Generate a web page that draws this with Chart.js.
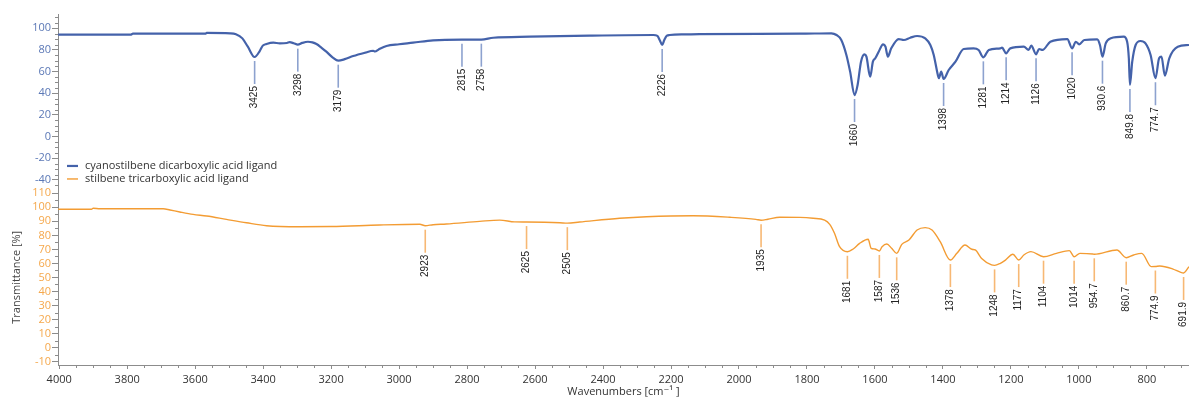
<!DOCTYPE html>
<html>
<head>
<meta charset="utf-8">
<script src="https://cdn.jsdelivr.net/npm/chart.js@4.4.1/dist/chart.umd.min.js"></script>
<style>
  html, body { margin: 0; padding: 0; background: #fff; }
  #wrap { width: 1189px; height: 398px; }
</style>
</head>
<body>
<div id="wrap"><canvas id="irChart" width="1189" height="398"></canvas></div>
<script>
// Axis ticks
const xTicks = [4000, 3800, 3600, 3400, 3200, 3000, 2800, 2600, 2400, 2200, 2000, 1800, 1600, 1400, 1200, 1000, 800];
const topTicks = [100, 80, 60, 40, 20, 0, -20, -40];
const botTicks = [110, 100, 90, 80, 70, 60, 50, 40, 30, 20, 10, 0, -10];

const seriesNames = ['cyanostilbene dicarboxylic acid ligand', 'stilbene tricarboxylic acid ligand'];

// [wavenumber cm-1, transmittance %]
const cyanoSpectrum = [
  [4003, 94.1], [3790, 94.1], [3783, 95.0], [3570, 95.0], [3566, 95.7], [3497, 95.4], [3480, 94.6],
  [3461, 90.7], [3445, 83], [3425, 73.5], [3410, 79], [3401, 84], [3390, 85.5], [3370, 86.7],
  [3351, 86.1], [3330, 86.4], [3322, 87.2], [3310, 86.2], [3298, 84.9], [3285, 86.5], [3268, 87.6],
  [3255, 87], [3243, 85.5], [3228, 82], [3214, 78.4], [3195, 73], [3179, 70.1], [3160, 71.5],
  [3135, 74.4], [3100, 77.5], [3076, 79.3], [3071, 78.6], [3060, 80.5], [3037, 83.7], [3000, 85.3],
  [2959, 86.7], [2900, 88.9], [2815, 89.5], [2758, 89.5], [2723, 91.3], [2616, 92.3], [2439, 93.2],
  [2252, 93.8], [2240, 93.0], [2233, 89], [2226, 84.6], [2220, 89], [2212, 93.2], [2204, 93.8],
  [2155, 94.4], [2116, 94.7], [1821, 95.0], [1728, 95.4], [1713, 93.8], [1699, 89.2], [1684, 75.4],
  [1673, 60], [1660, 38.4], [1651, 47.7], [1641, 69.2], [1631, 76], [1625, 73.8], [1614, 55.3],
  [1606, 69.2], [1599, 72.3], [1589, 78.4], [1576, 85.2], [1569, 83], [1562, 73.8], [1552, 81.5],
  [1530, 90.1], [1515, 89.2], [1496, 91.3], [1476, 92.9], [1452, 90.8], [1437, 84.6], [1427, 75.4],
  [1417, 60], [1412, 53.9], [1405, 60], [1398, 53.2], [1383, 61.5], [1363, 69.2], [1339, 80.9],
  [1310, 81.5], [1295, 80], [1281, 73.2], [1265, 80], [1231, 81.5], [1226, 82.1], [1214, 76.9],
  [1202, 81.5], [1162, 83], [1148, 80], [1140, 84], [1126, 76], [1117, 80.9], [1107, 80],
  [1084, 87.6], [1034, 90.1], [1020, 81.5], [1009, 87.6], [999, 85.2], [984, 89.2], [946, 89.8],
  [938, 84.6], [930.6, 73.8], [921, 86.1], [906, 90.8], [868, 92.3], [858, 87.6], [853, 72.3],
  [849.8, 47.7], [843, 69.2], [833, 84.6], [819, 88.3], [804, 86.1], [789, 75.4], [774.7, 53.9],
  [764, 72.3], [757, 73.8], [747, 56.3], [734, 72.3], [709, 83], [676, 84.6]
];
const stilbSpectrum = [
  [4003, 98.6], [3905, 98.6], [3900, 99.3], [3880, 99.0], [3694, 99.0], [3674, 98.1], [3645, 96.7],
  [3606, 95.0], [3566, 93.8], [3508, 91.4], [3449, 89.0], [3390, 86.9], [3292, 86.2], [3200, 86.3],
  [3057, 87.4], [2939, 87.9], [2923, 86.9], [2900, 87.6], [2861, 88.1], [2763, 90.0], [2704, 90.9],
  [2660, 89.6], [2625, 89.5], [2527, 89.0], [2505, 88.7], [2469, 89.5], [2351, 92.2], [2272, 93.3],
  [2135, 94.0], [2027, 92.9], [1950, 91.4], [1935, 90.8], [1915, 91.5], [1880, 92.9], [1821, 92.8],
  [1782, 92.2], [1748, 90.9], [1733, 87.9], [1719, 81.5], [1704, 71.9], [1681, 68.3], [1664, 70.3],
  [1645, 74.3], [1620, 77.2], [1611, 70.8], [1600, 70.3], [1587, 68.9], [1579, 71.9], [1565, 73.8],
  [1551, 70.8], [1536, 67.2], [1521, 73.6], [1500, 76.7], [1476, 83.8], [1452, 85.5], [1432, 83.8],
  [1408, 75.5], [1378, 62.4], [1359, 67.2], [1335, 73.1], [1315, 70.1], [1305, 69.6], [1286, 63.6],
  [1257, 58.9], [1248, 58.6], [1231, 60.1], [1216, 62.4], [1194, 66.5], [1177, 62.4], [1162, 66],
  [1141, 68.4], [1104, 64.8], [1066, 67.2], [1028, 69.1], [1014, 64.8], [997, 67.2], [959, 66.7],
  [954.7, 66.5], [888, 69.6], [860.7, 64.1], [839, 66], [815, 67.2], [787, 57.7], [774.9, 57.8],
  [762, 58.2], [723, 56], [700, 53.6], [691.9, 53.2], [676, 57.7]
];

// labelled peaks
const cyanoPeaks = [3425, 3298, 3179, 2815, 2758, 2226, 1660, 1398, 1281, 1214, 1126, 1020, 930.6, 849.8, 774.7];
const stilbPeaks = [2923, 2625, 2505, 1935, 1681, 1587, 1536, 1378, 1248, 1177, 1104, 1014, 954.7, 860.7, 774.9, 691.9];

const blue = '#4462aa', blueTick = '#5b78b6', bluePeak = '#8da2cf';
const orange = '#f39c33', orangeTick = '#f5a84c', orangePeak = '#f7b874';
const axisColor = '#8c8c8c';
const fontFam = '"Open Sans", "DejaVu Sans", sans-serif';

// linear lookup of the curve at a wavenumber (arrays run high -> low)
function valueAt(spec, wn) {
  for (let i = 0; i < spec.length - 1; i++) {
    const [w0, t0] = spec[i], [w1, t1] = spec[i + 1];
    if (wn <= w0 && wn >= w1) return t0 + (t1 - t0) * (w0 - wn) / (w0 - w1);
  }
  return spec[spec.length - 1][1];
}

const irExtras = {
  id: 'irExtras',
  afterDatasetsDraw(chart) {
    const { ctx, chartArea: ca, scales: { x, yTop, yBot } } = chart;
    ctx.save();

    // minor ticks
    ctx.strokeStyle = axisColor;
    ctx.lineWidth = 1;
    ctx.beginPath();
    for (let w = 700; w <= 4000; w += 50) {
      if (w % 200 === 0) continue;
      const px = Math.round(x.getPixelForValue(w)) + 0.5;
      ctx.moveTo(px, ca.bottom); ctx.lineTo(px, ca.bottom + 3);
    }
    for (let v = -45; v <= 110; v += 5) {
      if (v % 20 === 0) continue;
      const py = Math.round(yTop.getPixelForValue(v)) + 0.5;
      ctx.moveTo(ca.left - 3, py); ctx.lineTo(ca.left, py);
    }
    for (let v = -10; v <= 110; v += 5) {
      if (v % 10 === 0) continue;
      const py = Math.round(yBot.getPixelForValue(v)) + 0.5;
      ctx.moveTo(ca.left - 3, py); ctx.lineTo(ca.left, py);
    }
    ctx.stroke();

    // peak markers
    const groups = [
      [cyanoPeaks, cyanoSpectrum, yTop, bluePeak],
      [stilbPeaks, stilbSpectrum, yBot, orangePeak]
    ];
    ctx.font = '10px "Liberation Sans", Arial, sans-serif';
    ctx.textAlign = 'right';
    ctx.textBaseline = 'middle';
    groups.forEach(([peaks, spec, ys, col]) => {
      peaks.forEach(p => {
        const px = x.getPixelForValue(p);
        const py = ys.getPixelForValue(valueAt(spec, p));
        ctx.strokeStyle = col;
        ctx.lineWidth = 1.6;
        ctx.beginPath();
        ctx.moveTo(px, py + 4); ctx.lineTo(px, py + 27);
        ctx.stroke();
        ctx.save();
        ctx.translate(px, py + 29);
        ctx.rotate(-Math.PI / 2);
        ctx.fillStyle = '#222';
        ctx.fillText(String(p), 0, 0);
        ctx.restore();
      });
    });

    // legend inside the top panel
    const lx = ca.left + 9, ly = yTop.getPixelForValue(-40) - 14;
    ctx.font = '11px ' + fontFam;
    ctx.textAlign = 'left';
    [[blue, 2.2], [orange, 1.4]].forEach(([c, w], i) => {
      const yy = ly + i * 13;
      ctx.strokeStyle = c; ctx.lineWidth = w;
      ctx.beginPath(); ctx.moveTo(lx, yy); ctx.lineTo(lx + 11, yy); ctx.stroke();
      ctx.fillStyle = '#333';
      ctx.fillText(seriesNames[i], lx + 18, yy);
    });
    ctx.restore();
  }
};

function yAxis(ticks, min, max, tickColor, extra) {
  return Object.assign({
    type: 'linear',
    position: 'left',
    stack: 'ir',
    stackWeight: 1,
    min: min,
    max: max,
    afterBuildTicks: s => { s.ticks = ticks.map(v => ({ value: v })); },
    afterFit: s => { s.width = 58; },
    grid: { drawOnChartArea: false, color: axisColor, tickLength: 6 },
    border: { color: axisColor },
    ticks: { color: tickColor, padding: 1, autoSkip: false, font: { family: fontFam, size: 11 }, callback: v => String(v) }
  }, extra);
}

const ctx = document.getElementById('irChart').getContext('2d');
new Chart(ctx, {
  type: 'line',
  data: {
    datasets: [{
      label: seriesNames[0],
      data: cyanoSpectrum.map(([w, t]) => ({ x: w, y: t })),
      yAxisID: 'yTop',
      borderColor: blue,
      borderWidth: 2.2,
      pointRadius: 0,
      cubicInterpolationMode: 'monotone',
      fill: false
    }, {
      label: seriesNames[1],
      data: stilbSpectrum.map(([w, t]) => ({ x: w, y: t })),
      yAxisID: 'yBot',
      borderColor: orange,
      borderWidth: 1.4,
      pointRadius: 0,
      cubicInterpolationMode: 'monotone',
      fill: false
    }]
  },
  options: {
    responsive: false,
    animation: false,
    layout: { padding: { top: 14, right: 0, bottom: 0, left: 0 } },
    plugins: { legend: { display: false }, tooltip: { enabled: false } },
    scales: {
      x: {
        type: 'linear',
        reverse: true,
        min: 676,
        max: 4003.5,
        afterBuildTicks: s => { s.ticks = xTicks.map(v => ({ value: v })); },
        afterFit: s => { s.height = 33; },
        grid: { drawOnChartArea: false, color: axisColor, tickLength: 4 },
        border: { color: axisColor },
        ticks: { color: '#333', padding: 4, maxRotation: 0, autoSkip: false, font: { family: fontFam, size: 11 }, callback: v => String(v) },
        title: { display: true, text: 'Wavenumbers [cm⁻¹ ]', color: '#333', font: { family: fontFam, size: 11 }, padding: { top: 0, bottom: 0 } }
      },
      yBot: yAxis(botTicks, -12.4, 112.7, orangeTick, {
        title: { display: true, text: 'Transmittance [%]', color: '#444', font: { family: fontFam, size: 11 }, padding: { top: 10, bottom: 0 } }
      }),
      yTop: yAxis(topTicks, -48.8, 113.2, blueTick, {})
    }
  },
  plugins: [irExtras]
});
</script>
</body>
</html>
